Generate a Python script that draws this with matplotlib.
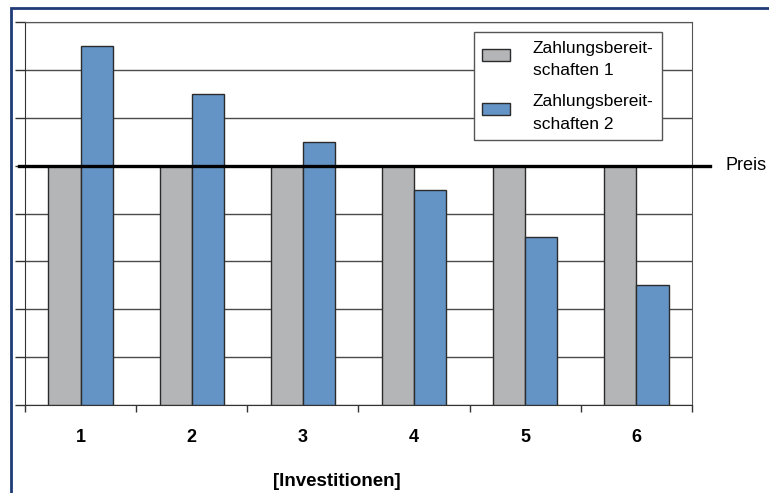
import matplotlib.pyplot as plt
from matplotlib.patches import Rectangle, Patch
import numpy as np

plt.rcParams['font.family'] = ['Liberation Sans', 'DejaVu Sans']

# Daten
investitionen = ['1', '2', '3', '4', '5', '6']
zb1 = [5, 5, 5, 5, 5, 5]
zb2 = [7.5, 6.5, 5.5, 4.5, 3.5, 2.5]
preis = 5
y_max = 8

grau = '#b3b5b7'
blau = '#6494c6'
kante = '#2b2b2b'

fig = plt.figure(figsize=(7.69, 4.93), dpi=100)
ax = fig.add_axes([25 / 769, 1 - 405 / 493, 667 / 769, 383 / 493])

x = np.arange(len(investitionen))
breite = 0.29
ax.bar(x - breite / 2, zb1, breite, color=grau, edgecolor=kante, linewidth=1, zorder=3)
ax.bar(x + breite / 2, zb2, breite, color=blau, edgecolor=kante, linewidth=1, zorder=3)

ax.set_xlim(-0.5, len(investitionen) - 0.5)
ax.set_ylim(0, y_max)

# Gitterlinien
ax.set_yticks(np.arange(0, y_max + 1))
ax.set_yticklabels([])
ax.yaxis.grid(True, color='#4a4a4a', linewidth=1, zorder=1)
ax.tick_params(axis='y', direction='out', length=7, width=1, color='#333333')

ax.set_xticks(x)
ax.set_xticklabels(investitionen, fontsize=13, fontweight='bold')
ax.set_xticks(np.arange(-0.5, len(investitionen)), minor=True)
ax.tick_params(axis='x', which='major', length=0, pad=17)
ax.tick_params(axis='x', which='minor', direction='out', length=5, width=1, color='#333333')

for s in ['top', 'right']:
    ax.spines[s].set_color('#555555')
ax.spines['left'].set_color('#333333')
ax.spines['bottom'].set_color('#333333')

# Preislinie
ax.plot([-0.55, len(investitionen) - 0.34], [preis, preis], color='black',
        linewidth=2.4, clip_on=False, zorder=5)
ax.text(len(investitionen) - 0.2, preis, 'Preis', fontsize=13, va='center', ha='left')

ax.text(0.468, -0.2, '[Investitionen]', transform=ax.transAxes, fontsize=13.5,
        fontweight='bold', ha='center', va='center')

handles = [Patch(facecolor=grau, edgecolor=kante), Patch(facecolor=blau, edgecolor=kante)]
leg = ax.legend(handles, ['Zahlungsbereit-\nschaften 1', 'Zahlungsbereit-\nschaften 2'],
                loc='upper right', bbox_to_anchor=(0.955, 0.974), borderaxespad=0,
                fontsize=12.5, frameon=True, fancybox=False, framealpha=1,
                edgecolor='#555555', handlelength=1.6, handleheight=0.7,
                labelspacing=0.95, borderpad=0.5, handletextpad=1.3)
leg.get_frame().set_linewidth(1)
leg.set_zorder(6)
for t in leg.get_texts():
    t.set_linespacing(1.6)
for h in leg.legend_handles:
    h.set_y(h.get_y() + 3)

# Rahmen
fig.patches.append(Rectangle((11 / 769, -0.1), 0.999 - 11 / 769 + 0.02, 1 - 8 / 493 + 0.1,
                             transform=fig.transFigure, fill=False,
                             edgecolor='#1f3c78', linewidth=2))

fig.savefig('out.png', dpi=100)
